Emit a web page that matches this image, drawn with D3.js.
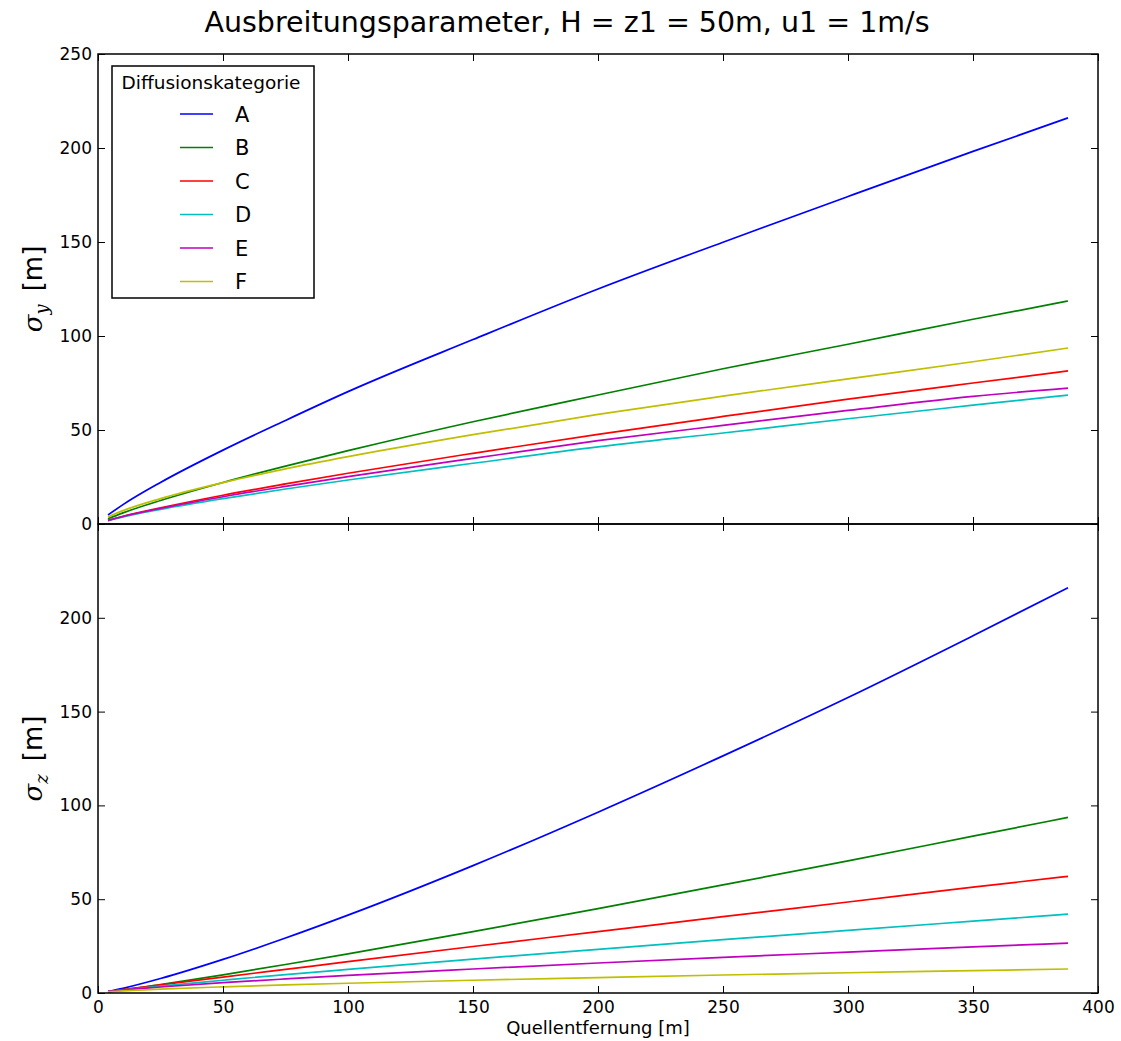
<!DOCTYPE html>
<html>
<head>
<meta charset="utf-8">
<script src="https://cdn.jsdelivr.net/npm/d3@7"></script>
<style>
  body { margin: 0; background: #fff; }
  svg { font-family: "DejaVu Sans", sans-serif; }
</style>
</head>
<body>
<div id="chart"></div>
<script>
// Quellentfernung [m]
var distances = [4, 10, 25, 50, 75, 100, 150, 200, 250, 300, 350, 388];
var categories = ["A", "B", "C", "D", "E", "F"];
var colors = ["#0000ff", "#008000", "#ff0000", "#00bfbf", "#bf00bf", "#bfbf00"];

// sigma_y [m]
var sigmaY_A = [4.8, 10.3, 22.1, 39.3, 55.1, 70.4, 98.1, 125.0, 149.9, 174.2, 198.2, 216.0];
var sigmaY_B = [2.8, 5.9, 12.5, 22.1, 30.8, 39.0, 54.4, 68.6, 82.6, 95.6, 108.9, 118.6];
var sigmaY_C = [1.9, 4.1, 8.6, 15.3, 21.3, 27.0, 37.6, 47.7, 57.2, 66.4, 75.0, 81.4];
var sigmaY_D = [1.8, 3.8, 7.8, 13.5, 18.6, 23.4, 32.3, 41.0, 48.4, 56.0, 63.2, 68.6];
var sigmaY_E = [1.9, 4.0, 8.3, 14.5, 20.0, 25.2, 34.9, 44.3, 52.5, 60.4, 67.9, 72.3];
var sigmaY_F = [3.8, 7.1, 13.5, 22.0, 29.3, 35.8, 47.5, 58.3, 68.0, 77.2, 86.3, 93.6];

// sigma_z [m]
var sigmaZ_A = [0.8, 2.5, 7.7, 17.9, 29.3, 41.5, 67.9, 96.4, 126.4, 157.5, 190.4, 216.0];
var sigmaZ_B = [0.6, 1.6, 4.5, 9.7, 15.2, 20.9, 32.7, 45.0, 57.6, 70.4, 83.6, 93.6];
var sigmaZ_C = [0.7, 1.8, 4.3, 8.5, 12.6, 16.7, 24.8, 32.7, 40.7, 48.5, 56.4, 62.2];
var sigmaZ_D = [0.7, 1.6, 3.7, 6.8, 9.8, 12.6, 18.1, 23.3, 28.4, 33.4, 38.3, 42.0];
var sigmaZ_E = [0.8, 1.6, 3.2, 5.5, 7.5, 9.4, 12.8, 16.0, 19.0, 21.8, 24.6, 26.6];
var sigmaZ_F = [0.6, 1.1, 2.1, 3.3, 4.3, 5.2, 6.8, 8.2, 9.6, 10.8, 11.9, 12.8];

var xTicks = [0, 50, 100, 150, 200, 250, 300, 350, 400];
var yTicksTop = [0, 50, 100, 150, 200, 250];
var yTicksBottom = [0, 50, 100, 150, 200];

var titleText = "Ausbreitungsparameter, H = z1 = 50m, u1 = 1m/s";
var legendTitle = "Diffusionskategorie";
var xLabel = "Quellentfernung [m]";

var seriesTop = [sigmaY_A, sigmaY_B, sigmaY_C, sigmaY_D, sigmaY_E, sigmaY_F];
var seriesBottom = [sigmaZ_A, sigmaZ_B, sigmaZ_C, sigmaZ_D, sigmaZ_E, sigmaZ_F];

var width = 1121, height = 1041;
var left = 98, right = 1098;
var topY = 54, midY = 524, bottomY = 993;
var tickLen = 7;

var svg = d3.select("#chart").append("svg")
    .attr("width", width)
    .attr("height", height);

svg.append("rect").attr("width", width).attr("height", height).attr("fill", "#fff");

var x = d3.scaleLinear().domain([0, 400]).range([left, right]);
var yTop = d3.scaleLinear().domain([0, 250]).range([midY, topY]);
var yBot = d3.scaleLinear().domain([0, 250]).range([bottomY, midY]);

function drawPanel(y, series, yTicks, showX) {
    var g = svg.append("g");
    var line = d3.line()
        .x(function(d, i) { return x(distances[i]); })
        .y(function(d) { return y(d); })
        .curve(d3.curveMonotoneX);

    series.forEach(function(s, i) {
        g.append("path")
            .attr("d", line(s))
            .attr("fill", "none")
            .attr("stroke", colors[i])
            .attr("stroke-width", 1.7);
    });

    // ticks inside, all four sides
    var y0 = y.range()[0], y1 = y.range()[1];
    var ax = g.append("g").attr("transform", "translate(0," + y0 + ")")
        .call(d3.axisBottom(x).tickValues(xTicks).tickSizeInner(-tickLen).tickSizeOuter(0)
            .tickFormat(showX ? d3.format("d") : ""));
    ax.selectAll("text").attr("y", 8).attr("dy", "0.71em");
    var axTop = g.append("g").attr("transform", "translate(0," + y1 + ")")
        .call(d3.axisTop(x).tickValues(xTicks).tickSizeInner(-tickLen).tickSizeOuter(0).tickFormat(""));
    var ayL = g.append("g").attr("transform", "translate(" + left + ",0)")
        .call(d3.axisLeft(y).tickValues(yTicks).tickSizeInner(-tickLen).tickSizeOuter(0).tickFormat(d3.format("d")));
    ayL.selectAll("text").attr("x", -6);
    var ayR = g.append("g").attr("transform", "translate(" + right + ",0)")
        .call(d3.axisRight(y).tickValues(yTicks).tickSizeInner(-tickLen).tickSizeOuter(0).tickFormat(""));

    [ax, axTop, ayL, ayR].forEach(function(a) {
        a.select(".domain").remove();
        a.selectAll("line").attr("stroke", "#000").attr("stroke-width", 1);
        a.selectAll("text").attr("font-size", 17).attr("fill", "#000")
            .attr("font-family", "DejaVu Sans, sans-serif");
    });

    g.append("rect")
        .attr("x", left).attr("y", y1)
        .attr("width", right - left).attr("height", y0 - y1)
        .attr("fill", "none").attr("stroke", "#000").attr("stroke-width", 1.5);
}

drawPanel(yTop, seriesTop, yTicksTop, false);
drawPanel(yBot, seriesBottom, yTicksBottom, true);

// title
svg.append("text")
    .attr("x", 567).attr("y", 32)
    .attr("text-anchor", "middle")
    .attr("font-size", 28.5)
    .text(titleText);

// axis labels
svg.append("text")
    .attr("x", (left + right) / 2).attr("y", 1034)
    .attr("text-anchor", "middle")
    .attr("font-size", 18)
    .text(xLabel);

function sigmaLabel(cy, sub) {
    var t = svg.append("text")
        .attr("transform", "translate(42," + cy + ") rotate(-90)")
        .attr("text-anchor", "middle")
        .attr("font-size", 26);
    t.append("tspan").attr("font-family", "DejaVu Serif, serif").attr("font-style", "italic").text("σ");
    t.append("tspan").attr("font-family", "DejaVu Serif, serif").attr("font-style", "italic")
        .attr("font-size", 18).attr("dy", 6).text(sub);
    t.append("tspan").attr("dy", -6).text("\u2002[m]");
}
sigmaLabel((topY + midY) / 2, "y");
sigmaLabel((midY + bottomY) / 2, "z");

// legend
var legend = svg.append("g");
legend.append("rect")
    .attr("x", 112).attr("y", 66).attr("width", 202).attr("height", 232)
    .attr("fill", "#fff").attr("stroke", "#000").attr("stroke-width", 1.5);
legend.append("text")
    .attr("x", 211).attr("y", 89)
    .attr("text-anchor", "middle")
    .attr("font-size", 18.5)
    .text(legendTitle);
categories.forEach(function(c, i) {
    var cy = 114 + i * 33.5;
    legend.append("line")
        .attr("x1", 180).attr("x2", 213).attr("y1", cy).attr("y2", cy)
        .attr("stroke", colors[i]).attr("stroke-width", 1.7);
    legend.append("text")
        .attr("x", 235).attr("y", cy + 7.5)
        .attr("font-size", 21)
        .text(c);
});
</script>
</body>
</html>
